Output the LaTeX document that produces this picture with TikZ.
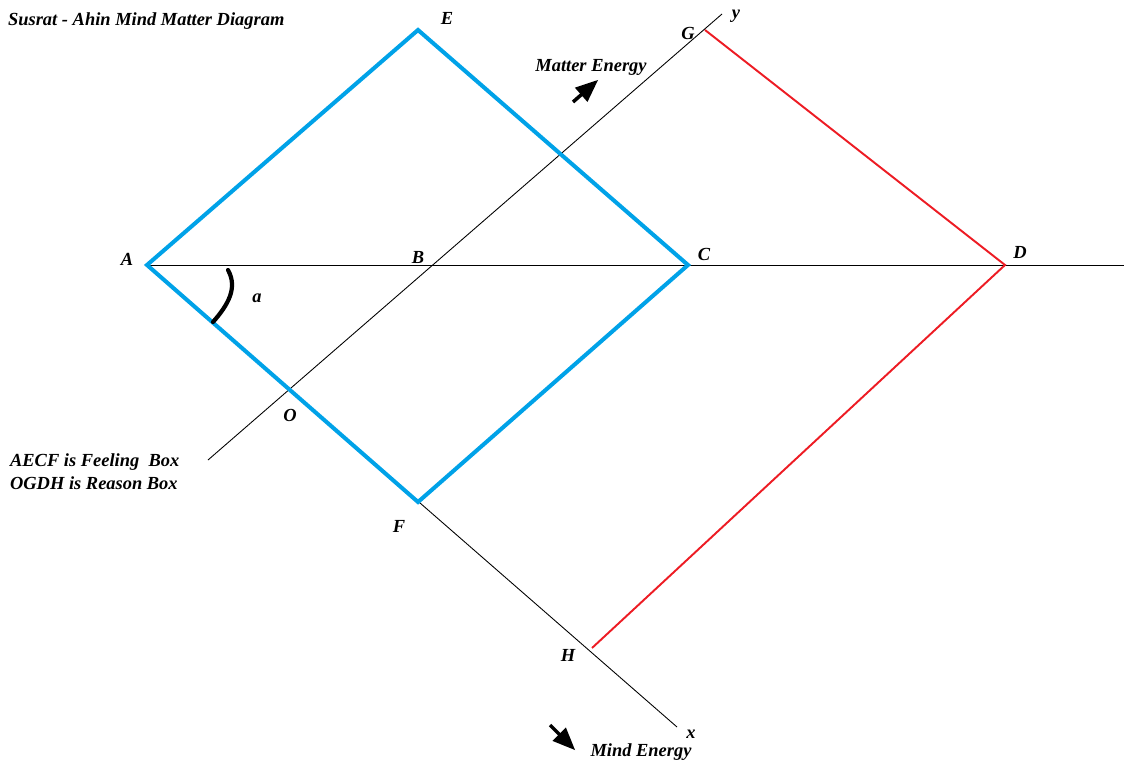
\documentclass[tikz,border=0pt]{standalone}
\usepackage{fontspec}
\setmainfont{Liberation Serif}
\usetikzlibrary{
    arrows,
    calc,
    positioning
}
\definecolor{feelblue}{RGB}{0,162,232}
\definecolor{reasonred}{RGB}{237,28,36}
\tikzset{lbl/.style={font=\fontsize{10.5}{12}\selectfont\bfseries\itshape, inner sep=1pt}}
\tikzset{axisline/.style={draw=black, line width=0.5pt}}
\tikzset{feelbox/.style={draw=feelblue, line width=2.3pt, line join=miter}}
\tikzset{reasonbox/.style={draw=reasonred, line width=1.1pt}}
\tikzset{energy/.style={-triangle 45, line width=2pt}}

\begin{document}
\begin{tikzpicture}[x=0.02cm, y=-0.02cm]
                        \useasboundingbox (0, 0) rectangle (1124, 760);

                        % points
                        \coordinate (A) at (147, 265);
                        \coordinate (E) at (418, 30);
                        \coordinate (C) at (688, 265);
                        \coordinate (F) at (418, 502);
                        \coordinate (D) at (1005, 265);
                        \coordinate (G) at (705, 30);
                        \coordinate (H) at (592, 648);
                        \coordinate (B) at (430, 266);
                        \coordinate (O) at (289, 390);
                        \coordinate (xend) at (677, 727);
                        \coordinate (ystart) at (208, 460);
                        \coordinate (yend) at (722, 14);
                        \coordinate (hend) at (1124, 265);

                        % axes
                        \draw[axisline] (A) -- (hend);
                        \draw[axisline] (A) -- (xend);
                        \draw[axisline] (ystart) -- (yend);

                        % boxes
                        \draw[feelbox] (A) -- (E) -- (C) -- (F) -- cycle;
                        \draw[reasonbox] (G) -- (D) -- (H);

                        % angle a
                        \draw[line width=2.4pt, line cap=round] (228, 270) .. controls (238, 288) and (228, 305) .. (213, 322);

                        % energy arrows
                        \draw[energy] (573, 102) -- (598, 80);
                        \draw[energy] (550, 725) -- (575, 750);

                        % labels
                        \node[lbl, anchor=west] (title) at (6, 21) {Susrat - Ahin Mind Matter Diagram};
                        \node[lbl] (lA) at (127, 259) {A};
                        \node[lbl] (lB) at (418, 257) {B};
                        \node[lbl] (lC) at (704, 254) {C};
                        \node[lbl] (lD) at (1020, 252) {D};
                        \node[lbl] (lE) at (447, 18) {E};
                        \node[lbl] (lF) at (399, 526) {F};
                        \node[lbl] (lG) at (688, 33) {G};
                        \node[lbl] (lH) at (568, 655) {H};
                        \node[lbl] (lO) at (290, 415) {O};
                        \node[lbl] (la) at (257, 298) {a};
                        \node[lbl] (lx) at (691, 734) {x};
                        \node[lbl] (ly) at (736, 16) {y};
                        \node[lbl] (matter) at (591, 67) {Matter Energy};
                        \node[lbl] (mind) at (641, 752) {Mind Energy};
                        \node[lbl, anchor=west] (feeling) at (8, 462) {AECF is Feeling\ \ Box};
                        \node[lbl, anchor=west] (reason) at (8, 483) {OGDH is Reason Box};
                    \end{tikzpicture}
\end{document}
